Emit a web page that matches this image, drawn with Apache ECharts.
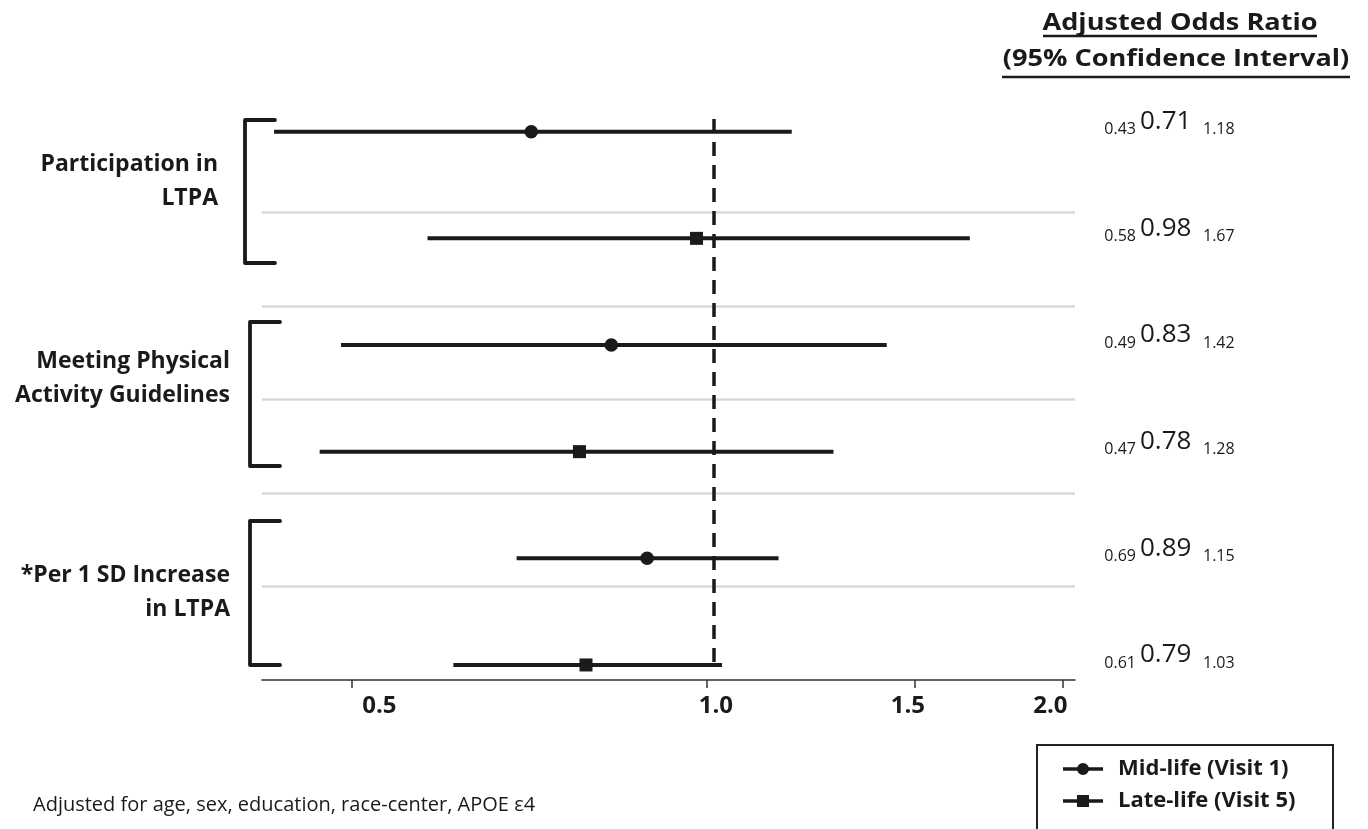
<!DOCTYPE html>
<html>
<head>
<meta charset="utf-8">
<script src="https://cdn.jsdelivr.net/npm/echarts@6/dist/echarts.min.js"></script>
<style>
  html, body { margin: 0; padding: 0; background: #fff; }
  #main { width: 1368px; height: 829px; }
</style>
</head>
<body>
<div id="main"></div>
<script>
// 数据
var groupNames = ['Participation in\nLTPA', 'Meeting Physical\nActivity Guidelines', '*Per 1 SD Increase\nin LTPA'];
var seriesNames = ['Mid-life (Visit 1)', 'Late-life (Visit 5)'];
var midOR = [0.71, 0.83, 0.89];
var midLow = [0.43, 0.49, 0.69];
var midHigh = [1.18, 1.42, 1.15];
var lateOR = [0.98, 0.78, 0.79];
var lateLow = [0.58, 0.47, 0.61];
var lateHigh = [1.67, 1.28, 1.03];
var tickValues = [0.5, 1.0, 1.5, 2.0];
var axisRange = [0.42, 2.05];
var refValue = 1.014;      // dashed line (drawn just right of 1.0 in the figure)
var bandEdges = [1, 2, 3, 4, 5];

// 样式
var INK = '#1a1a1a';
var FONT = 'Open Sans';
var labelShift = [28, 9, -7, -12];   // axis labels sit a bit off their ticks
var rowRange = [0.881, 6.141];

var chart = echarts.init(document.getElementById('main'));

// 每个分组两行：mid-life 在上，late-life 在下
function buildData(orArr, lowArr, highArr, offset) {
  return orArr.map(function (v, i) {
    return [Math.log(lowArr[i]), Math.log(highArr[i]), Math.log(v), i * 2 + offset,
            lowArr[i], v, highArr[i]];
  });
}

function renderCI(params, api) {
  var row = api.value(3);
  var p1 = api.coord([api.value(0), row]);
  var p2 = api.coord([api.value(1), row]);
  var pc = api.coord([api.value(2), row]);
  var marker;
  if (params.seriesIndex === 0) {
    marker = { type: 'circle', shape: { cx: pc[0], cy: pc[1], r: 6.8 }, style: { fill: INK } };
  } else {
    marker = { type: 'rect', shape: { x: pc[0] - 6.5, y: pc[1] - 6.5, width: 13, height: 13 }, style: { fill: INK } };
  }
  var y = pc[1];
  return {
    type: 'group',
    children: [
      { type: 'line', shape: { x1: p1[0], y1: y, x2: p2[0], y2: y }, style: { stroke: INK, lineWidth: 4 } },
      marker,
      { type: 'text', style: { text: api.value(4).toFixed(2), x: 1136, y: y - 2, align: 'right', verticalAlign: 'middle',
          fontSize: 16, fontFamily: FONT, fill: INK } },
      { type: 'text', style: { text: api.value(5).toFixed(2), x: 1140, y: y - 10, align: 'left', verticalAlign: 'middle',
          fontSize: 26, fontFamily: FONT, fill: INK } },
      { type: 'text', style: { text: api.value(6).toFixed(2), x: 1203, y: y - 2, align: 'left', verticalAlign: 'middle',
          fontSize: 16, fontFamily: FONT, fill: INK } }
    ]
  };
}

var circleIcon = 'path://M0,4.2L40,4.2L40,7.8L0,7.8Z M26,6A6,6,0,1,1,14,6A6,6,0,1,1,26,6Z';
var squareIcon = 'path://M0,4.2L40,4.2L40,7.8L0,7.8Z M14,0L26,0L26,12L14,12Z';

// 左侧分组标签和括号
var groupLabelPos = [[218, 181], [230, 378], [230, 592]];
var bracketPos = [[245, 275, 120, 263], [250, 280, 322, 466], [250, 280, 521, 665]];

var graphics = [];
groupNames.forEach(function (name, i) {
  graphics.push({
    type: 'text',
    style: { text: name, x: groupLabelPos[i][0], y: groupLabelPos[i][1], align: 'right', verticalAlign: 'middle',
      fontSize: 23, fontWeight: 'bold', fontFamily: FONT, fill: INK, lineHeight: 34 }
  });
  var b = bracketPos[i];
  graphics.push({
    type: 'polyline',
    shape: { points: [[b[1], b[2]], [b[0], b[2]], [b[0], b[3]], [b[1], b[3]]] },
    style: { stroke: INK, lineWidth: 3.8, fill: null, lineJoin: 'round', lineCap: 'round' }
  });
});

// 右上标题（原图文字略微横向拉伸）
graphics.push(
  { type: 'text', x: 1180, y: 23, scaleX: 1.13,
    style: { text: 'Adjusted Odds Ratio', x: 0, y: 0, align: 'center', verticalAlign: 'middle',
      fontSize: 24, fontWeight: 'bold', fontFamily: FONT, fill: INK } },
  { type: 'line', shape: { x1: 1043, y1: 36, x2: 1317, y2: 36 }, style: { stroke: INK, lineWidth: 2.5 } },
  { type: 'text', x: 1176, y: 59, scaleX: 1.13,
    style: { text: '(95% Confidence Interval)', x: 0, y: 0, align: 'center', verticalAlign: 'middle',
      fontSize: 24, fontWeight: 'bold', fontFamily: FONT, fill: INK } },
  { type: 'line', shape: { x1: 1002, y1: 77, x2: 1350, y2: 77 }, style: { stroke: INK, lineWidth: 2.5 } },
  { type: 'text', style: { text: 'Adjusted for age, sex, education, race-center, APOE ε4', x: 33, y: 805,
      align: 'left', verticalAlign: 'middle', fontSize: 20, fontFamily: FONT, fill: INK } },
  // 图例外框（下边被裁掉）
  { type: 'rect', shape: { x: 1037, y: 745, width: 296, height: 110 },
    style: { fill: null, stroke: '#222', lineWidth: 2 } }
);

var option = {
  backgroundColor: '#fff',
  animation: false,
  grid: { left: 262, right: 293, top: 119, bottom: 149 },
  xAxis: {
    type: 'value',
    position: 'bottom',
    min: Math.log(axisRange[0]),
    max: Math.log(axisRange[1]),
    axisLine: { show: true, onZero: false, lineStyle: { color: '#333', width: 1.5 } },
    axisTick: { show: true, customValues: tickValues.map(Math.log), length: 8, lineStyle: { color: '#333', width: 1.5 } },
    axisLabel: {
      customValues: tickValues.map(Math.log),
      margin: 14,
      fontSize: 24, fontWeight: 'bold', fontFamily: FONT, color: INK,
      formatter: function (v) {
        var real = Math.exp(v);
        var idx = 0;
        tickValues.forEach(function (t, i) { if (Math.abs(t - real) < 1e-6) idx = i; });
        return '{s' + idx + '|' + real.toFixed(1) + '}';
      },
      rich: (function () {
        var r = {};
        labelShift.forEach(function (s, i) {
          r['s' + i] = {
            fontSize: 24, fontWeight: 'bold', fontFamily: FONT, color: INK,
            padding: s >= 0 ? [0, 0, 0, 2 * s] : [0, -2 * s, 0, 0]
          };
        });
        return r;
      })()
    },
    splitLine: { show: false }
  },
  yAxis: [
    { type: 'value', inverse: true, min: rowRange[0], max: rowRange[1], show: false },
    { type: 'value', inverse: true, min: 0, max: 6, show: false }
  ],
  legend: {
    orient: 'vertical',
    left: 1037,
    top: 745,
    padding: [13, 10, 5, 26],
    itemGap: 10,
    itemWidth: 40,
    itemHeight: 12,
    selectedMode: false,
    textStyle: { fontSize: 22, fontWeight: 'bold', fontFamily: FONT, color: INK, lineHeight: 20,
      padding: [0, 0, 0, 10] },
    data: [
      { name: seriesNames[0], icon: circleIcon, itemStyle: { color: INK } },
      { name: seriesNames[1], icon: squareIcon, itemStyle: { color: INK } }
    ]
  },
  graphic: graphics,
  series: [
    {
      name: seriesNames[0],
      type: 'custom',
      renderItem: renderCI,
      itemStyle: { color: INK },
      encode: { x: [0, 1, 2], y: 3 },
      data: buildData(midOR, midLow, midHigh, 1),
      z: 3
    },
    {
      name: seriesNames[1],
      type: 'custom',
      renderItem: renderCI,
      itemStyle: { color: INK },
      encode: { x: [0, 1, 2], y: 3 },
      data: buildData(lateOR, lateLow, lateHigh, 2),
      z: 3
    },
    {
      // 灰色分隔线
      type: 'line',
      yAxisIndex: 1,
      data: [],
      z: 1,
      markLine: {
        silent: true, symbol: 'none', label: { show: false },
        lineStyle: { color: '#d9d9d9', width: 2.5, type: 'solid' },
        data: bandEdges.map(function (v) { return { yAxis: v }; })
      }
    },
    {
      // 参考线 OR = 1
      type: 'line',
      data: [],
      z: 4,
      markLine: {
        silent: true, symbol: 'none', label: { show: false },
        lineStyle: { color: INK, width: 3.5, type: [14, 9] },
        data: [[{ coord: [Math.log(refValue), rowRange[0]] }, { coord: [Math.log(refValue), 6] }]]
      }
    }
  ]
};

chart.setOption(option);
</script>
</body>
</html>
